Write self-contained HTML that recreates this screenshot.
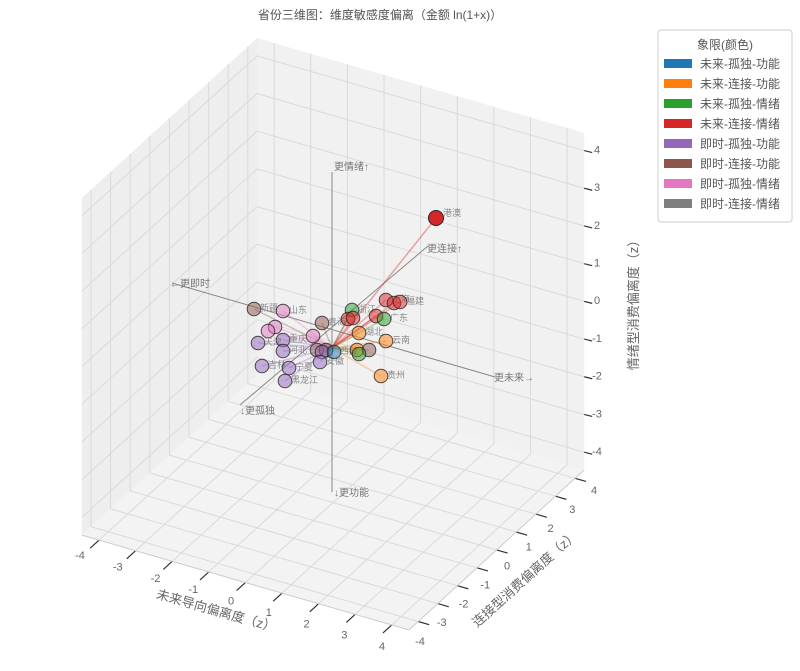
<!DOCTYPE html>
<html><head><meta charset="utf-8"><style>
body{margin:0;background:#fff;}
svg text{font-family:"Liberation Sans","Noto Sans CJK SC",sans-serif;}
</style></head><body>
<svg id="s" width="800" height="666" xmlns="http://www.w3.org/2000/svg">
<rect width="800" height="666" fill="#fff"/>
<g id="g"></g>
<text x="380" y="19" font-size="12" fill="#555" text-anchor="middle">省份三维图：维度敏感度偏离（金额 ln(1+x)）</text>
<text transform="translate(215,615) rotate(16)" font-size="13" fill="#666" text-anchor="middle">未来导向偏离度（z）</text>
<text transform="translate(528,582) rotate(-42)" font-size="13" fill="#666" text-anchor="middle">连接型消费偏离度（z）</text>
<text transform="translate(638,302) rotate(-90)" font-size="13" fill="#666" text-anchor="middle">情绪型消费偏离度（z）</text>
<g font-size="12" fill="#555">
<rect x="658" y="30" width="134" height="192" rx="3" fill="#fff" stroke="#ccc"/>
<text x="725" y="49" text-anchor="middle">象限(颜色)</text>
<rect x="664" y="59" width="28" height="9" fill="#1f77b4"/><text x="700" y="68">未来-孤独-功能</text>
<rect x="664" y="79" width="28" height="9" fill="#ff7f0e"/><text x="700" y="88">未来-连接-功能</text>
<rect x="664" y="99" width="28" height="9" fill="#2ca02c"/><text x="700" y="108">未来-孤独-情绪</text>
<rect x="664" y="119" width="28" height="9" fill="#d62728"/><text x="700" y="128">未来-连接-情绪</text>
<rect x="664" y="139" width="28" height="9" fill="#9467bd"/><text x="700" y="148">即时-孤独-功能</text>
<rect x="664" y="159" width="28" height="9" fill="#8c564b"/><text x="700" y="168">即时-连接-功能</text>
<rect x="664" y="179" width="28" height="9" fill="#e377c2"/><text x="700" y="188">即时-孤独-情绪</text>
<rect x="664" y="199" width="28" height="9" fill="#7f7f7f"/><text x="700" y="208">即时-连接-情绪</text>
</g>
</svg>
<script>
var g=document.getElementById('g'),NS='http://www.w3.org/2000/svg',L=4.47;
function P(x,y,z){return [333+36.6*x+19.6*y,334+10.6*x-17.9*y-37.7*z];}
function el(t,a,txt){var e=document.createElementNS(NS,t);for(var k in a)e.setAttribute(k,a[k]);if(txt!=null&&txt!=='')e.textContent=String(txt);g.appendChild(e);return e;}
function poly(pts,f){el('polygon',{points:pts.map(function(p){return p.join(',')}).join(' '),fill:f,stroke:'none'});}
function ln(a,b,c,w,o){el('line',{x1:a[0],y1:a[1],x2:b[0],y2:b[1],stroke:c,'stroke-width':w||1,'stroke-opacity':o==null?1:o});}
poly([P(-L,-L,-L),P(L,-L,-L),P(L,L,-L),P(-L,L,-L)],'#f3f3f3');
poly([P(-L,-L,-L),P(-L,L,-L),P(-L,L,L),P(-L,-L,L)],'#eeeeee');
poly([P(-L,L,-L),P(L,L,-L),P(L,L,L),P(-L,L,L)],'#f1f1f1');
for(var i=-4;i<=4;i++){
 ln(P(i,-L,-L),P(i,L,-L),'#dadada');ln(P(i,L,-L),P(i,L,L),'#dadada');
 ln(P(-L,i,-L),P(L,i,-L),'#dadada');ln(P(-L,i,-L),P(-L,i,L),'#dadada');
 ln(P(-L,-L,i),P(-L,L,i),'#dadada');ln(P(-L,L,i),P(L,L,i),'#dadada');
 ln(P(i,-L,-L),P(i,-L-0.45,-L),'#333',1.2);
 ln(P(L,i,-L),P(L+0.3,i,-L),'#333',1.2);
 var q=P(L,L,i);ln(q,[q[0]+8,q[1]+2],'#333',1.2);
}
ln(P(-L,-L,-L),P(L,-L,-L),'#ccc');ln(P(L,-L,-L),P(L,L,-L),'#ccc');
for(var i=-4;i<=4;i++){var t=(i+4)/8;
 el('text',{x:80+302*t,y:559+91*t,'font-size':11,fill:'#666','text-anchor':'middle'},String(i));
 el('text',{x:420+174*t,y:645-151*t,'font-size':11,fill:'#666','text-anchor':'middle'},String(i));
 el('text',{x:597,y:455-37.7*(i+4),'font-size':11,fill:'#666','text-anchor':'middle'},String(i));}
var C=[332,348];
ln([332,172],[332,492],'#888',1);ln([172,283],[495,377],'#888',1);ln([240,405],[428,246],'#888',1);
var an=[[334,170,'更情绪↑'],[334,496,'↓更功能'],[170,287,'←更即时'],[494,381,'更未来→'],[240,414,'↓更孤独'],[427,252,'更连接↑']];
an.forEach(function(a){el('text',{x:a[0],y:a[1],'font-size':10,fill:'#777'},a[2]);});
var col={b:'#1f77b4',o:'#ff7f0e',g:'#2ca02c',r:'#d62728',p:'#9467bd',n:'#8c564b',k:'#e377c2',y:'#7f7f7f'};
var pts=[[254,309,'n','新疆'],[283,311,'k','山东'],[275,327,'k',''],[268,331,'k',''],[258,343,'p','天津'],[283,340,'p','重庆'],[283,351,'p','河北'],[262,366,'p','吉林'],[289,368,'p','宁夏'],[285,381,'p','黑龙江'],[313,336,'k',''],[322,323,'n','青海'],[317,350,'n',''],[326,350,'n',''],[322,352,'p',''],[320,362,'p','安徽'],[334,352,'b','西藏'],[352,310,'g','浙江'],[348,319,'r',''],[353,318,'r',''],[386,300,'r','上海'],[394,303,'r',''],[400,302,'r','福建'],[376,316,'r',''],[384,319,'g','广东'],[359,333,'o','湖北'],[386,341,'o','云南'],[357,350,'o',''],[369,350,'n',''],[359,354,'g',''],[381,376,'o','贵州']];
pts.forEach(function(p){ln(C,[p[0],p[1]],col[p[2]],1.5,0.35);});
ln(C,[436,218],col.r,1.5,0.4);
pts.forEach(function(p){el('circle',{cx:p[0],cy:p[1],r:6.8,fill:col[p[2]],'fill-opacity':0.5,stroke:'#222','stroke-opacity':0.8,'stroke-width':1});
 if(p[3])el('text',{x:p[0]+6,y:p[1]+2,'font-size':9,fill:'#888'},p[3]);});
el('circle',{cx:436,cy:218,r:7.5,fill:col.r,stroke:'#222','stroke-width':1});
el('text',{x:443,y:216,'font-size':9,fill:'#888'},'港澳');
</script>
</body></html>
